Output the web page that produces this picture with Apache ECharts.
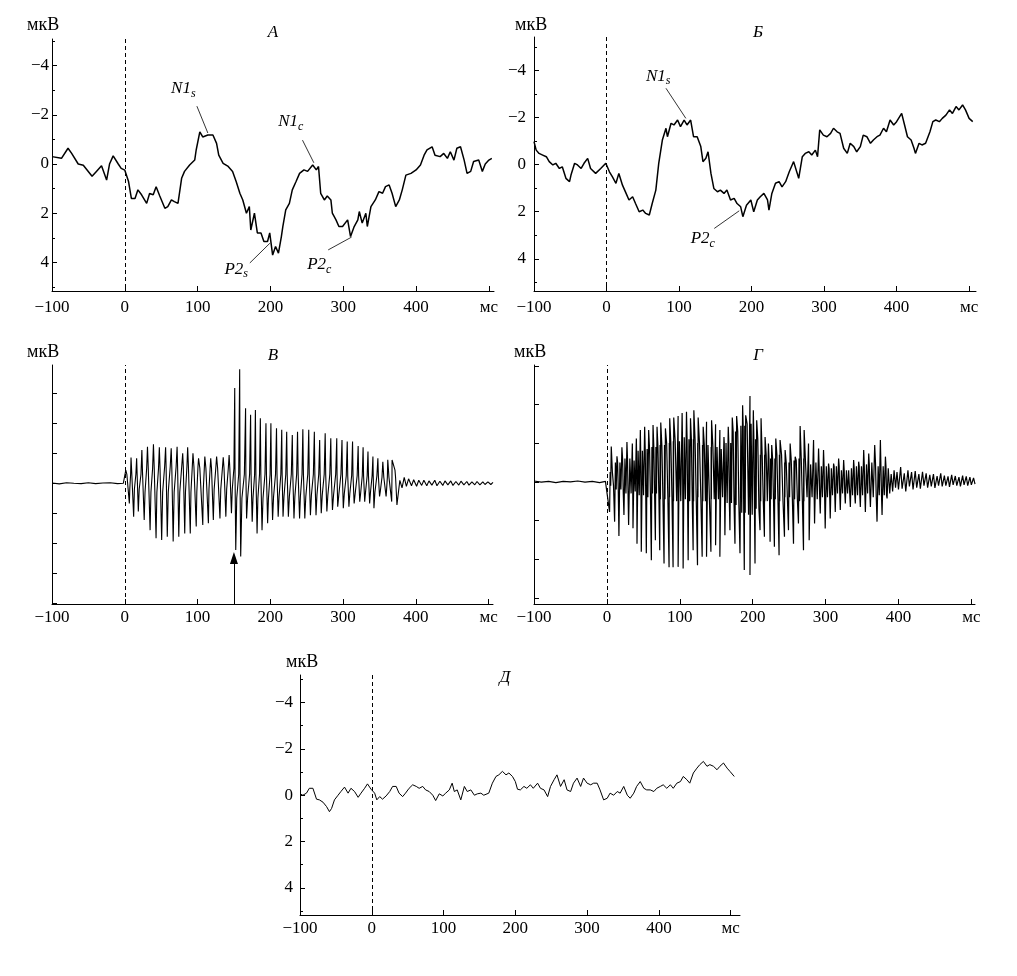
<!DOCTYPE html>
<html><head><meta charset="utf-8">
<script src="https://cdn.jsdelivr.net/npm/echarts@6/dist/echarts.min.js"></script>
<style>html,body{margin:0;padding:0;background:#fff}#c{width:1017px;height:976px}</style>
</head><body><div id="c"></div>
<script>
// ---------- Panel А ----------
const aT = [-100,-87,-78,-73,-64,-57,-45,-39,-32,-25,-21,-16,-9,-5,0,5,9,14,18,23,30,34,39,43,48,55,59,64,68,73,78,82,89,96,98,103,107,114,121,126,129,135,142,148,153,158,162,167,171,173,178,182,187,191,196,199,203,207,211,215,217,221,226,230,235,240,246,251,258,263,266,269,274,278,283,285,290,294,299,306,310,315,320,322,326,331,333,338,344,349,354,358,363,367,372,377,381,386,393,400,406,411,415,422,426,433,438,443,447,452,456,461,466,470,475,479,486,491,495,500,504];
const aV = [-0.3,-0.23,-0.64,-0.43,0,0.05,0.5,0.3,0.07,0.65,0,-0.33,0,0.18,0.25,0.7,1.4,1.4,1.05,1.25,1.6,1.2,1.25,0.92,1.3,1.8,1.73,1.46,1.53,1.6,0.58,0.3,0.04,-0.16,-0.57,-1.31,-1.1,-1.18,-1.18,-0.84,-0.36,-0.03,0.1,0.3,0.72,1.19,1.46,2.0,1.73,2.68,2.0,2.8,2.8,3.15,3.15,2.8,3.7,3.35,3.62,2.95,2.54,1.86,1.6,1.05,0.72,0.38,0.24,0.3,0.04,0.24,0.1,1.19,1.46,1.3,1.46,2.0,2.27,2.54,2.54,2.27,2.95,2.54,2.27,1.93,2.4,2.0,2.54,1.73,1.46,1.12,1.19,0.92,0.85,1.19,1.73,1.46,1.05,0.45,0.38,0.24,0.04,-0.36,-0.57,-0.7,-0.36,-0.3,-0.43,-0.23,-0.5,-0.16,-0.64,-0.7,-0.16,0.38,0.3,-0.1,-0.16,0.3,0,-0.16,-0.23];

// ---------- Panel Б ----------
const bT = [-100,-97,-93,-88,-83,-79,-74,-70,-65,-61,-56,-51,-49,-44,-40,-35,-31,-26,-22,-15,-8,-1,4,8,13,17,22,27,31,36,40,45,50,54,59,63,68,72,77,82,84,89,93,98,102,107,111,116,120,125,130,133,137,140,144,148,153,157,162,166,171,176,180,185,188,193,199,203,208,212,217,222,224,228,233,238,242,247,252,256,258,263,265,270,274,279,283,288,291,294,299,304,309,313,318,322,327,332,336,341,345,350,354,359,364,368,373,377,382,386,391,396,400,407,411,415,420,424,426,431,435,440,446,450,454,459,463,468,473,477,482,486,491,495,500,505];
const bV = [-0.98,-0.62,-0.48,-0.41,-0.34,-0.13,0.01,-0.06,0.16,0.09,0.58,0.72,0.44,-0.06,0.01,0.16,-0.06,-0.27,0.16,0.37,0.16,-0.06,0.3,0.51,0.79,0.37,0.87,1.22,1.5,1.36,1.65,2.0,1.93,2.07,2.14,1.65,1.08,-0.06,-1.05,-1.55,-1.19,-1.76,-1.69,-1.9,-1.62,-1.9,-1.69,-1.9,-1.19,-1.19,-0.77,-0.13,-0.27,-0.55,0.37,1.01,1.15,1.08,1.22,1.08,1.5,1.43,1.65,1.79,2.21,1.72,1.5,2.0,1.5,1.36,1.22,1.5,1.93,1.22,0.79,0.72,0.94,0.72,0.3,0.01,-0.13,0.37,0.58,-0.34,-0.48,-0.55,-0.41,-0.62,-0.34,-1.48,-1.26,-1.19,-1.33,-1.55,-1.4,-1.33,-0.7,-0.48,-0.91,-0.77,-0.55,-0.77,-1.26,-1.19,-0.91,-1.05,-1.19,-1.26,-1.55,-1.4,-1.9,-1.69,-1.83,-2.18,-1.69,-1.19,-1.05,-0.7,-0.48,-0.91,-0.84,-0.91,-1.4,-1.83,-1.9,-1.83,-1.97,-2.11,-2.33,-2.18,-2.47,-2.33,-2.54,-2.33,-1.97,-1.83];

// ---------- Panel В ----------
const vPreT = [-100,-90,-80,-70,-60,-50,-40,-30,-20,-10,-2];
const vPreV = [0.01,-0.02,0.02,0,-0.01,0.02,-0.01,0.01,0.02,-0.01,0];
const vUpT = [1.4,8.6,16.3,23.5,31.2,39.4,47.5,56.1,63.8,71.9,79.6,86.4,93.7,101.4,110,118.1,126.2,135.3,143.4,151.1,157.9,166,172.9,179.5,186.3,194,200.8,208.5,215.7,222.5,230.2,237.4,244.7,252.8,260.5,267.8,275.4,283.1,291.3,298.5,305.7,313,320.7,327.5,334.2,341,347.8,354.6,361.4,367.3,371.3];
const vUpV = [0.44,0.86,0.83,1.11,1.22,1.3,1.2,1.2,1.17,1.22,1.0,1.2,1.0,0.83,0.89,0.83,0.89,0.87,0.94,3.17,3.8,2.5,2.28,2.44,2.17,2.0,2.0,1.83,1.78,1.72,1.61,1.72,1.8,1.78,1.72,1.44,1.67,1.5,1.5,1.44,1.39,1.39,1.24,1.2,1.06,0.89,0.83,0.72,0.78,0.78,0.44];
const vDnT = [6.3,12.2,18.6,26.7,34.8,43,50.7,58.4,66.5,74.2,82.4,90,98.2,107.2,114.9,121.7,130.8,138.9,146.6,152.5,159.3,167.4,175.1,181.8,188.6,196.3,203.1,210.8,217.5,224.8,232.5,240.2,247.4,255.1,262.8,270,277.7,285.4,292.6,300.3,308,315.2,322.9,329.7,336.5,342.4,350.1,359.1,366.8,374];
const vDnV = [-0.67,-1.11,-0.94,-1.22,-1.56,-1.83,-1.89,-1.78,-1.94,-1.78,-1.67,-1.67,-1.44,-1.39,-1.33,-1.22,-1.17,-1.11,-1.0,-2.22,-2.44,-1.17,-1.28,-1.67,-1.56,-1.33,-1.22,-1.11,-1.11,-1.11,-1.17,-1.17,-1.17,-1.06,-1.06,-1.0,-0.94,-0.89,-0.78,-0.83,-0.78,-0.67,-0.61,-0.61,-0.67,-0.83,-0.44,-0.44,-0.61,-0.72];
// shoulder levels between spikes, per 25 ms bin from 0 ms
const vBandHi = [0.3,0.5,0.55,0.55,0.5,0.5,0.3,0.3,0.3,0.3,0.3,0.3,0.25,0.25,0.2];
const vBandLo = [-0.2,-0.3,-0.3,-0.3,-0.2,-0.2,-0.5,-0.5,-0.45,-0.45,-0.4,-0.4,-0.35,-0.3,-0.25];
const vTailT = [378,381,384,387,390,394,397,401,404,408,411,415,418,422,426,429,433,437,440,444,448,451,455,459,462,466,470,473,477,481,484,488,492,495,499,503,506];
const vTailV = [0.1,-0.15,0.2,-0.1,0.15,-0.08,0.12,-0.1,0.1,-0.07,0.1,-0.08,0.08,-0.06,0.1,-0.08,0.07,-0.07,0.08,-0.05,0.08,-0.07,0.06,-0.06,0.07,-0.05,0.06,-0.06,0.05,-0.05,0.06,-0.05,0.05,-0.04,0.05,-0.04,0.03];

// ---------- Panel Г ----------
const gPreT = [-100,-90,-80,-70,-60,-50,-40,-30,-20,-10,-2];
const gPreV = [0.02,-0.01,0.01,-0.02,0.01,0,0.02,-0.01,0.01,-0.02,0.01];
const gUpT = [6.0,13.8,20.6,27.5,34.9,40.4,45.9,51.8,57.3,63.3,68.8,73.9,80.3,86.2,91.7,97.7,103.2,109.2,114.7,119.3,125.2,132.1,136.7,143.6,149.1,155,160.6,166.5,172,178,186.2,190.4,196.3,200.9,205.5,211.5,217,221.6,226.1,231.7,237.6,244.5,251.4,258.3,265.1,270.6,276.6,283.5,290.4,297.2,304.1,311,317.9,324.8,331.7,338.5,345.4,352.3,359.2,367.4,375.2,382.1];
const gUpV = [0.91,0.66,0.89,1.03,0.99,1.12,1.34,1.42,1.34,1.47,1.42,1.53,1.38,1.64,1.66,1.7,1.78,1.81,1.64,1.85,1.66,1.42,1.55,1.59,1.49,1.34,1.16,1.42,1.66,1.7,1.98,1.72,2.22,1.85,1.59,1.64,1.16,0.99,0.95,1.12,1.08,0.82,0.99,0.65,1.44,1.34,0.99,1.08,0.86,0.82,0.47,0.47,0.6,0.56,0.3,0.56,0.52,0.82,0.73,0.95,1.08,0.65];
const gDnT = [3.7,10.6,16.5,23.4,29.8,35.8,41.3,47.2,54.1,61,66.5,72.5,78.4,85.3,90.8,97.7,104.6,111.5,118.3,124.3,130.7,136.7,142.7,149.1,155,161.9,168.8,175.7,182.6,188.5,196.3,203.2,210.1,216.1,223.9,229.8,236.2,243.6,249.1,256,262.8,269.7,277.5,284.9,292.7,299.5,306.4,313.3,320.2,327.1,334,340.8,347.7,354.6,361.5,370.6,377.5,384.4];
const gDnV = [-0.78,-1.03,-1.4,-0.86,-1.12,-1.2,-1.6,-1.81,-1.85,-2.03,-1.51,-1.77,-2.11,-2.21,-2.21,-2.2,-2.24,-2.03,-1.77,-2.16,-1.94,-1.94,-1.81,-1.64,-1.94,-1.38,-1.25,-1.6,-1.85,-2.28,-2.41,-2.11,-1.25,-1.42,-1.55,-1.68,-1.9,-1.42,-1.25,-1.6,-1.08,-1.77,-1.51,-1.08,-0.82,-1.21,-0.95,-0.78,-0.73,-0.56,-0.65,-0.56,-0.65,-0.78,-0.65,-1.03,-0.86,-0.43];
// dense black mass (upper / lower edge) per 10 ms bin from 0 ms
const gBandHi = [0.25,0.5,0.6,0.55,0.8,0.85,0.9,0.95,1.0,1.05,1.15,1.1,1.0,0.95,0.9,0.85,1.0,1.3,1.45,1.5,1.1,0.7,0.6,0.7,0.5,0.55,0.6,0.45,0.5,0.4,0.35,0.4,0.3,0.35,0.4,0.45,0.5,0.4];
const gBandLo = [-0.1,-0.2,-0.3,-0.25,-0.35,-0.4,-0.3,-0.45,-0.4,-0.5,-0.45,-0.5,-0.4,-0.5,-0.45,-0.4,-0.55,-0.6,-0.8,-0.85,-0.7,-0.5,-0.45,-0.5,-0.4,-0.45,-0.5,-0.4,-0.45,-0.4,-0.35,-0.3,-0.3,-0.35,-0.35,-0.3,-0.4,-0.35];
const gTailT = [386,388,390,392,394,396,398,400,403,405,408,410,413,415,418,420,423,425,428,430,433,435,438,440,443,445,448,450,453,455,458,460,463,465,468,470,473,475,478,480,483,485,488,490,493,495,498,500,503,505];
const gTailV = [0.35,-0.3,0.2,-0.25,0.3,-0.15,0.25,-0.2,0.38,-0.18,0.22,-0.25,0.3,-0.12,0.25,-0.2,0.28,-0.15,0.2,-0.18,0.26,-0.1,0.22,-0.15,0.18,-0.12,0.2,-0.16,0.15,-0.1,0.22,-0.12,0.16,-0.1,0.14,-0.13,0.18,-0.08,0.15,-0.1,0.12,-0.12,0.16,-0.08,0.14,-0.1,0.12,-0.08,0.1,-0.06];

// ---------- Panel Д ----------
const dT = [-100,-96,-91,-87,-82,-77,-73,-68,-63,-59,-56,-52,-47,-43,-38,-33,-29,-24,-19,-15,-10,-6,-1,4,7,11,15,20,25,29,34,38,43,47,52,57,62,66,71,75,80,85,89,94,99,103,108,112,115,119,124,129,133,138,143,147,152,156,163,168,173,177,182,187,191,196,200,203,207,212,216,221,225,231,235,240,245,249,254,258,263,268,272,277,281,286,291,295,300,305,309,314,318,323,328,332,337,342,346,351,356,360,365,369,374,379,383,388,393,397,402,406,411,416,420,425,430,434,439,443,448,453,457,462,467,471,476,481,485,490,495,499,505];
const dV = [-0.06,0,-0.09,-0.3,-0.3,0.17,0.2,0.3,0.49,0.71,0.57,0.2,0,-0.16,-0.35,-0.09,-0.3,-0.16,0.09,-0.09,-0.3,-0.49,-0.26,-0.09,0.2,0.06,0.17,0.03,-0.16,-0.38,-0.38,-0.09,0.06,-0.09,-0.3,-0.45,-0.38,-0.3,-0.38,-0.23,-0.16,0,0.23,-0.06,0.03,-0.09,-0.23,-0.52,-0.16,-0.23,0.2,-0.38,-0.16,-0.23,0,-0.06,-0.09,0,-0.09,-0.52,-0.81,-0.88,-1.03,-0.88,-0.96,-0.81,-0.59,-0.26,-0.23,-0.38,-0.3,-0.45,-0.3,-0.52,-0.3,-0.23,0.06,-0.38,-0.67,-0.88,-0.38,-0.67,-0.23,-0.16,-0.52,-0.74,-0.38,-0.74,-0.52,-0.45,-0.52,-0.52,-0.23,0.2,0.13,-0.09,0,-0.16,-0.09,-0.38,0,0.13,-0.09,-0.38,-0.59,-0.3,-0.23,-0.23,-0.16,-0.3,-0.38,-0.45,-0.3,-0.45,-0.3,-0.52,-0.59,-0.81,-0.67,-0.52,-0.96,-1.17,-1.32,-1.46,-1.25,-1.32,-1.25,-1.1,-1.25,-1.39,-1.17,-1.03,-0.81];

// ---------- tick labels ----------
const xTicks = [-100,0,100,200,300,400,500];
const yMajor = [-4,-2,0,2,4];
const yMinorT = [-5,-3,-1,1,3,5];
const vTicks = [-4,-3,-2,-1,0,1,2,3];
const gTicks = [-3,-2,-1,0,1,2,3];

// ---------- helpers ----------
const FONT = '"Liberation Serif","Times New Roman",serif';
const zip = (t, v) => t.map((x, i) => [x, v[i]]);
const minus = v => (v < 0 ? '\u2212' + Math.abs(v) : String(v));
function merge(...lists) {
  const pts = [];
  lists.forEach(([t, v, kind]) => t.forEach((x, i) => pts.push([x, v[i], kind])));
  pts.sort((a, b) => a[0] - b[0]);
  return pts;
}
// В: spikes with shoulder levels between them
const vEvents = merge([vUpT, vUpV, 'u'], [vDnT, vDnV, 'd']);
const vCore = [];
for (let i = 0; i < vEvents.length; i++) {
  const e = vEvents[i];
  vCore.push([e[0], e[1]]);
  if (i < vEvents.length - 1) {
    const n = vEvents[i + 1], a = e[0], b = n[0];
    const k = Math.min(vBandHi.length - 1, Math.floor(a / 25));
    if (e[2] === 'u' && n[2] === 'd') {
      vCore.push([a + 0.3 * (b - a), vBandHi[k]]);
    } else if (e[2] === 'd' && n[2] === 'u') {
      vCore.push([a + 0.25 * (b - a), vBandLo[k]]);
      vCore.push([b - 0.25 * (b - a), vBandHi[k]]);
    }
  }
}
const vData = [...zip(vPreT, vPreV), ...vCore, ...zip(vTailT, vTailV)];
// Г: spikes with the dense inner oscillation between them
const gEvents = merge([gUpT, gUpV, 'u'], [gDnT, gDnV, 'd']);
const gCore = [];
for (let i = 0; i < gEvents.length; i++) {
  gCore.push([gEvents[i][0], gEvents[i][1]]);
  if (i < gEvents.length - 1) {
    const a = gEvents[i][0], b = gEvents[i + 1][0];
    const k = Math.min(gBandHi.length - 1, Math.floor(a / 10));
    gCore.push([a + (b - a) / 3, gBandHi[k]]);
    gCore.push([a + 2 * (b - a) / 3, gBandLo[k]]);
  }
}
const gData = [...zip(gPreT, gPreV), ...gCore, ...zip(gTailT, gTailV)];

const black = '#000';
function xAx(gi, max, margin) {
  return {
    type: 'value', gridIndex: gi, min: -100, max: max,
    axisLine: { show: true, onZero: false, lineStyle: { color: black, width: 1 } },
    axisTick: { show: true, inside: true, length: 5, customValues: xTicks, lineStyle: { color: black } },
    axisLabel: { customValues: xTicks, formatter: v => (v === 500 ? 'мс' : minus(v)), color: black, fontFamily: FONT, fontSize: 17, margin: margin },
    splitLine: { show: false }
  };
}
function yAx(gi, min, max, inverse, labels, ticks, margin) {
  return {
    type: 'value', gridIndex: gi, min: min, max: max, inverse: inverse, position: 'left',
    axisLine: { show: true, onZero: false, lineStyle: { color: black, width: 1 } },
    axisTick: { show: true, inside: true, length: 5, customValues: ticks, lineStyle: { color: black } },
    axisLabel: { show: labels.length > 0, customValues: labels.length ? labels : ticks, formatter: minus, color: black, fontFamily: FONT, fontSize: 17, margin: margin },
    splitLine: { show: false }
  };
}
function yMinor(gi, min, max) {
  return {
    type: 'value', gridIndex: gi, min: min, max: max, inverse: true, position: 'left', offset: 0,
    axisLine: { show: false, onZero: false },
    axisTick: { show: true, inside: true, length: 3, customValues: yMinorT, lineStyle: { color: black } },
    axisLabel: { show: false }, splitLine: { show: false }
  };
}
const dash = { xAxis: 0, lineStyle: { type: [4, 3], color: black, width: 1 } };
function lead(p1, p2) {
  return [{ coord: p1, lineStyle: { type: 'solid', color: black, width: 0.8 } }, { coord: p2 }];
}
const rich = {
  m: { fontFamily: FONT, fontStyle: 'italic', fontSize: 17, color: black, lineHeight: 22, verticalAlign: 'middle' },
  s: { fontFamily: FONT, fontStyle: 'italic', fontSize: 12, color: black, lineHeight: 9, verticalAlign: 'bottom' }
};
function lab(coord, main, sub) {
  return { coord: coord, value: 0, label: { formatter: '{m|' + main + '}{s|' + sub + '}' } };
}
function markPts(list) {
  return { symbol: 'circle', symbolSize: 0, silent: true, label: { show: true, position: 'inside', rich: rich }, data: list };
}
function lineSeries(xi, yi, data, width, markLineData, markPointData) {
  const s = {
    type: 'line', xAxisIndex: xi, yAxisIndex: yi, data: data, showSymbol: false, symbol: 'none',
    lineStyle: { color: black, width: width }, animation: false, silent: true,
    markLine: { silent: true, symbol: ['none', 'none'], label: { show: false }, lineStyle: { color: black }, data: markLineData }
  };
  if (markPointData) s.markPoint = markPts(markPointData);
  return s;
}

const option = {
  animation: false,
  backgroundColor: '#fff',
  grid: [
    { left: 52, top: 39, width: 442, height: 252 },
    { left: 534, top: 37, width: 442, height: 254 },
    { left: 52, top: 365, width: 441, height: 239 },
    { left: 534, top: 365, width: 441, height: 239 },
    { left: 300, top: 675, width: 440, height: 240 }
  ],
  xAxis: [xAx(0, 507, 8), xAx(1, 509.5, 8), xAx(2, 506, 5), xAx(3, 505, 5), xAx(4, 513, 5)],
  yAxis: [
    yAx(0, -5.08, 5.16, true, yMajor, yMajor, 3),
    yAx(1, -5.43, 5.37, true, yMajor, yMajor, 8),
    yAx(2, -4.02, 3.94, false, [], vTicks, 8),
    yAx(3, -3.16, 3.02, false, [], gTicks, 8),
    yAx(4, -5.19, 5.17, true, yMajor, yMajor, 7),
    yMinor(0, -5.08, 5.16),
    yMinor(1, -5.43, 5.37),
    yMinor(4, -5.19, 5.17)
  ],
  series: [
    lineSeries(0, 0, zip(aT, aV), 1.5,
      [dash, lead([99, -2.35], [114, -1.26]), lead([244, -0.97], [259.6, -0.05]), lead([171.7, 4.02], [199.2, 3.22]), lead([279.3, 3.49], [311.4, 2.97])],
      [lab([80.4, -3.05], 'N1', 's'), lab([228, -1.73], 'N1', 'c'), lab([153, 4.27], 'P2', 's'), lab([267, 4.1], 'P2', 'c')]),
    lineSeries(1, 1, zip(bT, bV), 1.5,
      [dash, lead([82, -3.25], [109.4, -1.97]), lead([148.6, 2.71], [183, 1.96])],
      [lab([71.3, -3.77], 'N1', 's'), lab([132.7, 3.16], 'P2', 'c')]),
    (function () {
      const s = lineSeries(2, 2, vData, 1.1, [dash], null);
      s.markLine.data.push([{ coord: [150, -4.02], symbol: 'none', lineStyle: { type: 'solid', color: black, width: 1 } }, { coord: [150, -2.49], symbol: 'triangle', symbolSize: [8, 12] }]);
      return s;
    })(),
    lineSeries(3, 3, gData, 1.2, [dash], null),
    lineSeries(4, 4, zip(dT, dV), 1, [dash], null)
  ],
  graphic: [
    { type: 'text', x: 27, y: 25, style: { text: 'мкВ', font: '18px "Liberation Serif"', fill: black, textVerticalAlign: 'middle' } },
    { type: 'text', x: 515, y: 25, style: { text: 'мкВ', font: '18px "Liberation Serif"', fill: black, textVerticalAlign: 'middle' } },
    { type: 'text', x: 27, y: 352, style: { text: 'мкВ', font: '18px "Liberation Serif"', fill: black, textVerticalAlign: 'middle' } },
    { type: 'text', x: 514, y: 352, style: { text: 'мкВ', font: '18px "Liberation Serif"', fill: black, textVerticalAlign: 'middle' } },
    { type: 'text', x: 286, y: 662, style: { text: 'мкВ', font: '18px "Liberation Serif"', fill: black, textVerticalAlign: 'middle' } },
    { type: 'text', x: 273, y: 33, style: { text: 'А', font: 'italic 17px "Liberation Serif"', fill: black, textAlign: 'center', textVerticalAlign: 'middle' } },
    { type: 'text', x: 758, y: 33, style: { text: 'Б', font: 'italic 17px "Liberation Serif"', fill: black, textAlign: 'center', textVerticalAlign: 'middle' } },
    { type: 'text', x: 273, y: 356, style: { text: 'В', font: 'italic 17px "Liberation Serif"', fill: black, textAlign: 'center', textVerticalAlign: 'middle' } },
    { type: 'text', x: 758, y: 356, style: { text: 'Г', font: 'italic 17px "Liberation Serif"', fill: black, textAlign: 'center', textVerticalAlign: 'middle' } },
    { type: 'text', x: 505, y: 678, style: { text: 'Д', font: 'italic 17px "Liberation Serif"', fill: black, textAlign: 'center', textVerticalAlign: 'middle' } }
  ]
};
const chart = echarts.init(document.getElementById('c'), null, { renderer: 'canvas' });
chart.setOption(option);
</script>
</body></html>
